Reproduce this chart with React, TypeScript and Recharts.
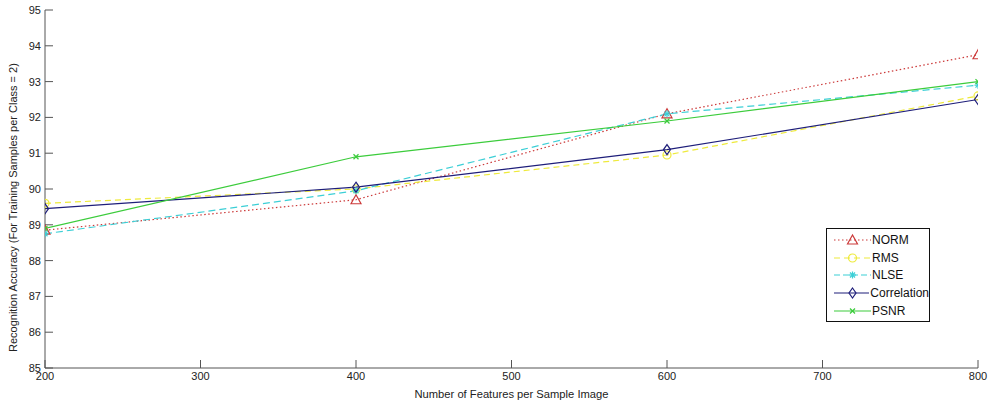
import React from "react";
import { LineChart, Line, XAxis, YAxis, Legend } from "recharts";

const features = [200, 400, 600, 800];
const norm = [88.85, 89.7, 92.1, 93.75];
const rms = [89.6, 90.0, 90.95, 92.6];
const nlse = [88.75, 89.95, 92.1, 92.9];
const correlation = [89.45, 90.05, 91.1, 92.5];
const psnr = [88.9, 90.9, 91.9, 93.0];

const xTicks = [200, 300, 400, 500, 600, 700, 800];
const yTicks = [85, 86, 87, 88, 89, 90, 91, 92, 93, 94, 95];

const data = features.map((f, i) => ({
  x: f,
  norm: norm[i],
  rms: rms[i],
  nlse: nlse[i],
  correlation: correlation[i],
  psnr: psnr[i],
}));

const C_NORM = "#cc3a3a";
const C_RMS = "#eeea3c";
const C_NLSE = "#3ccfd6";
const C_CORR = "#1e1e7a";
const C_PSNR = "#3ccc3c";

type MarkerKind = "tri" | "circ" | "star" | "diam" | "x";

function Marker({ kind, cx, cy, color }: { kind: MarkerKind; cx: number; cy: number; color: string }) {
  if (cx == null || cy == null) return null;
  switch (kind) {
    case "tri":
      return (
        <polygon
          points={`${cx},${cy - 5} ${cx - 5},${cy + 4} ${cx + 5},${cy + 4}`}
          fill="none"
          stroke={color}
          strokeWidth={1.2}
        />
      );
    case "circ":
      return <circle cx={cx} cy={cy} r={4} fill="none" stroke={color} strokeWidth={1.2} />;
    case "star":
      return (
        <g stroke={color} strokeWidth={1.2}>
          <line x1={cx - 3.5} y1={cy} x2={cx + 3.5} y2={cy} />
          <line x1={cx} y1={cy - 3.5} x2={cx} y2={cy + 3.5} />
          <line x1={cx - 2.5} y1={cy - 2.5} x2={cx + 2.5} y2={cy + 2.5} />
          <line x1={cx - 2.5} y1={cy + 2.5} x2={cx + 2.5} y2={cy - 2.5} />
        </g>
      );
    case "diam":
      return (
        <polygon
          points={`${cx},${cy - 5} ${cx + 3.5},${cy} ${cx},${cy + 5} ${cx - 3.5},${cy}`}
          fill="none"
          stroke={color}
          strokeWidth={1.2}
        />
      );
    case "x":
      return (
        <g stroke={color} strokeWidth={1.2}>
          <line x1={cx - 2.5} y1={cy - 2.5} x2={cx + 2.5} y2={cy + 2.5} />
          <line x1={cx - 2.5} y1={cy + 2.5} x2={cx + 2.5} y2={cy - 2.5} />
        </g>
      );
  }
  return null;
}

const makeDot = (kind: MarkerKind, color: string) => (props: any) => (
  <Marker key={`${kind}-${props.index}`} kind={kind} cx={props.cx} cy={props.cy} color={color} />
);

const legendItems: { name: string; color: string; dash?: string; kind: MarkerKind }[] = [
  { name: "NORM", color: C_NORM, dash: "1.5 2.5", kind: "tri" },
  { name: "RMS", color: C_RMS, dash: "6 4", kind: "circ" },
  { name: "NLSE", color: C_NLSE, dash: "6 3", kind: "star" },
  { name: "Correlation", color: C_CORR, kind: "diam" },
  { name: "PSNR", color: C_PSNR, kind: "x" },
];

const CustomLegend = () => (
  <div
    style={{
      width: 104,
      height: 94,
      border: "1px solid #111",
      background: "#fff",
      boxSizing: "border-box",
      paddingTop: 2,
    }}
  >
    {legendItems.map((it) => (
      <div key={it.name} style={{ display: "flex", alignItems: "center", height: 17.8 }}>
        <svg width={44} height={14} style={{ display: "block" }}>
          <line x1={7} y1={7} x2={44} y2={7} stroke={it.color} strokeWidth={1.2} strokeDasharray={it.dash} />
          <Marker kind={it.kind} cx={25.5} cy={7} color={it.color} />
        </svg>
        <span
          style={{
            fontFamily: "'Liberation Sans', Arial, sans-serif",
            fontSize: 12,
            color: "#111",
            lineHeight: "14px",
            marginLeft: 1,
          }}
        >
          {it.name}
        </span>
      </div>
    ))}
  </div>
);

const tickStyle = { fontFamily: "'Liberation Sans', Arial, sans-serif", fontSize: 11, fill: "#222" };
const AXIS = "#555";

export default function App() {
  return (
    <div style={{ position: "absolute", left: 0, top: 0, width: 989, height: 407, background: "#fff" }}>
      <LineChart width={989} height={407} data={data} margin={{ top: 10, right: 11, bottom: 0, left: 0 }}>
        <XAxis
          xAxisId="b"
          dataKey="x"
          type="number"
          domain={[200, 800]}
          ticks={xTicks}
          allowDataOverflow
          height={39}
          tickSize={-8}
          tickMargin={12}
          stroke={AXIS}
          tick={tickStyle}
          label={{
            value: "Number of Features per Sample Image",
            position: "insideBottom",
            offset: 9,
            style: { ...tickStyle, fontSize: 11.2, fill: "#222" },
          }}
        />
        <XAxis
          xAxisId="t"
          dataKey="x"
          type="number"
          orientation="top"
          domain={[200, 800]}
          ticks={xTicks}
          height={0}
          tickSize={-8}
          tick={false}
          stroke={AXIS}
        />
        <YAxis
          yAxisId="l"
          type="number"
          domain={[85, 95]}
          ticks={yTicks}
          width={45}
          tickSize={-8}
          tickMargin={12}
          stroke={AXIS}
          tick={tickStyle}
          label={{
            value: "Recognition Accuracy (For Training Samples per Class = 2)",
            angle: -90,
            position: "insideLeft",
            offset: 13,
            dy: 163,
            style: { ...tickStyle, fontSize: 11, fill: "#222" },
          }}
        />
        <YAxis
          yAxisId="r"
          type="number"
          orientation="right"
          domain={[85, 95]}
          ticks={yTicks}
          width={0}
          tickSize={-8}
          tick={false}
          stroke={AXIS}
        />
        <Legend
          content={<CustomLegend />}
          layout="horizontal"
          verticalAlign="middle"
          align="center"
          wrapperStyle={{ left: 826, top: 228, width: 104 }}
        />
        <Line
          xAxisId="b"
          yAxisId="l"
          dataKey="norm"
          name="NORM"
          stroke={C_NORM}
          strokeWidth={1.2}
          strokeDasharray="1.5 2.5"
          dot={makeDot("tri", C_NORM)}
          isAnimationActive={false}
        />
        <Line
          xAxisId="b"
          yAxisId="l"
          dataKey="rms"
          name="RMS"
          stroke={C_RMS}
          strokeWidth={1.2}
          strokeDasharray="6 4"
          dot={makeDot("circ", C_RMS)}
          isAnimationActive={false}
        />
        <Line
          xAxisId="b"
          yAxisId="l"
          dataKey="nlse"
          name="NLSE"
          stroke={C_NLSE}
          strokeWidth={1.2}
          strokeDasharray="7 4"
          dot={makeDot("star", C_NLSE)}
          isAnimationActive={false}
        />
        <Line
          xAxisId="b"
          yAxisId="l"
          dataKey="correlation"
          name="Correlation"
          stroke={C_CORR}
          strokeWidth={1.2}
          dot={makeDot("diam", C_CORR)}
          isAnimationActive={false}
        />
        <Line
          xAxisId="b"
          yAxisId="l"
          dataKey="psnr"
          name="PSNR"
          stroke={C_PSNR}
          strokeWidth={1.2}
          dot={makeDot("x", C_PSNR)}
          isAnimationActive={false}
        />
      </LineChart>
    </div>
  );
}
